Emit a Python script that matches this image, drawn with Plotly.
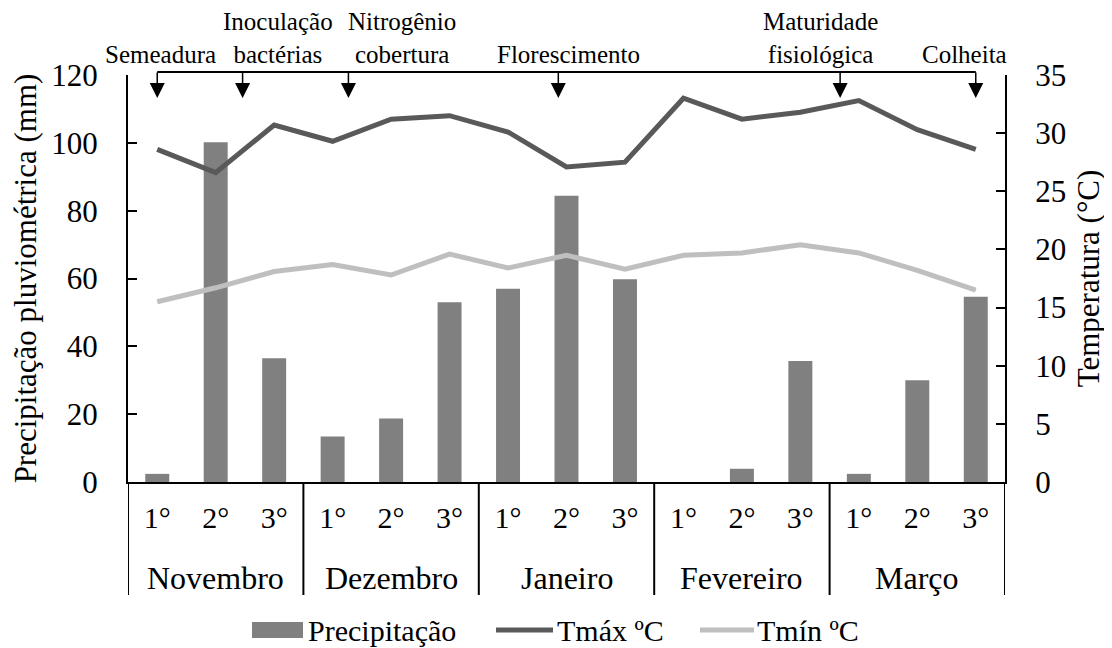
import plotly.graph_objects as go

months = ["Novembro", "Dezembro", "Janeiro", "Fevereiro", "Março"]
decendios = ["1°", "2°", "3°"]
precip = [2.4, 100.2, 36.5, 13.4, 18.7, 53.0, 57.0, 84.4, 59.8, 0.0, 3.9, 35.7, 2.4, 30.0, 54.6]
tmax = [28.6, 26.6, 30.7, 29.3, 31.2, 31.5, 30.1, 27.1, 27.5, 33.0, 31.2, 31.8, 32.8, 30.3, 28.6]
tmin = [15.5, 16.7, 18.1, 18.7, 17.8, 19.6, 18.4, 19.5, 18.3, 19.5, 19.7, 20.4, 19.7, 18.2, 16.5]

events = ["Semeadura", "Inoculação<br>bactérias", "Nitrogênio<br>cobertura",
          "Florescimento", "Maturidade<br>fisiológica", "Colheita"]
event_arrow_pos = [0.0, 1.46, 3.27, 6.86, 11.68, 14.0]
event_label_pos = [0.05, 2.06, 4.19, 7.04, 11.35, 13.81]

series_names = ["Precipitação", "Tmáx ºC", "Tmín ºC"]
colors = ["#808080", "#595959", "#bfbfbf"]

n = len(months) * len(decendios)
xi = list(range(n))
tick_text = [d for _ in months for d in decendios]

FONT = "Liberation Serif"

# page has an 8px body margin; plot area in window pixels: x 128..1005, y 75..482
OFF = 8
W, H = 1112 - OFF, 648 - OFF
PX0, PX1, PY0, PY1 = 128, 1005, 75, 482
ml, mr, mt, mb = PX0 - OFF, W + OFF - PX1, PY0 - OFF, H + OFF - PY1
pw, ph = PX1 - PX0, PY1 - PY0


def xpx(X):
    return (X - PX0) / pw


def ypx(Y):
    return 1 - (Y - PY0) / ph


def xidx(i):
    return (i + 0.5) / n


fig = go.Figure()
fig.add_trace(go.Bar(x=xi, y=precip, name=series_names[0],
                     marker=dict(color=colors[0], line=dict(width=0)), yaxis="y"))
fig.add_trace(go.Scatter(x=xi, y=tmax, name=series_names[1], mode="lines",
                         line=dict(color=colors[1], width=5), yaxis="y2"))
fig.add_trace(go.Scatter(x=xi, y=tmin, name=series_names[2], mode="lines",
                         line=dict(color=colors[2], width=5), yaxis="y2"))

annotations = []
shapes = []

# event bracket + arrows
shapes.append(dict(type="line", xref="paper", yref="paper",
                   x0=xidx(event_arrow_pos[0]), x1=xidx(event_arrow_pos[-1]),
                   y0=ypx(72), y1=ypx(72), line=dict(color="black", width=2)))
for pos in event_arrow_pos:
    annotations.append(dict(xref="paper", yref="paper", x=xidx(pos), y=ypx(98),
                            text="", showarrow=True, ax=0, ay=-27, arrowhead=2,
                            arrowsize=2.0, arrowwidth=1.5, arrowcolor="black"))
for lab, pos in zip(events, event_label_pos):
    annotations.append(dict(xref="paper", yref="paper", x=xidx(pos), y=ypx(70),
                            xanchor="center", yanchor="bottom", text=lab, showarrow=False,
                            font=dict(family=FONT, size=25, color="black")))

# month group labels and dividers
for k, m in enumerate(months):
    annotations.append(dict(xref="x", yref="paper", x=k * len(decendios) + (len(decendios) - 1) / 2,
                            y=ypx(578), xanchor="center", yanchor="middle", text=m,
                            showarrow=False, font=dict(family=FONT, size=32, color="black")))
for k in range(len(months) + 1):
    xv = k * len(decendios) - 0.5
    shapes.append(dict(type="line", xref="x", yref="paper", x0=xv, x1=xv,
                       y0=0, y1=ypx(595), line=dict(color="black", width=2)))

# manual legend
LEG_Y = 630
shapes.append(dict(type="rect", xref="paper", yref="paper", x0=xpx(252), x1=xpx(303),
                   y0=ypx(638), y1=ypx(622), fillcolor=colors[0], line=dict(width=0)))
shapes.append(dict(type="line", xref="paper", yref="paper", x0=xpx(496), x1=xpx(553),
                   y0=ypx(LEG_Y), y1=ypx(LEG_Y), line=dict(color=colors[1], width=5)))
shapes.append(dict(type="line", xref="paper", yref="paper", x0=xpx(700), x1=xpx(754),
                   y0=ypx(LEG_Y), y1=ypx(LEG_Y), line=dict(color=colors[2], width=5)))
for name, X in zip(series_names, [306, 555, 755]):
    annotations.append(dict(xref="paper", yref="paper", x=xpx(X), y=ypx(LEG_Y),
                            xanchor="left", yanchor="middle", text=name, showarrow=False,
                            font=dict(family=FONT, size=30, color="black")))

fig.update_layout(
    width=W, height=H,
    margin=dict(l=ml, r=mr, t=mt, b=mb, autoexpand=False),
    paper_bgcolor="white", plot_bgcolor="white",
    font=dict(family=FONT, size=30, color="black"),
    bargap=0.59,
    showlegend=False,
    xaxis=dict(range=[-0.5, n - 0.5], tickvals=xi, ticktext=tick_text, showline=True,
               linecolor="black", linewidth=2, ticks="", showgrid=False, zeroline=False,
               ticklabelstandoff=8, tickfont=dict(family=FONT, size=30, color="black")),
    yaxis=dict(range=[0, 120], dtick=20, showline=True, linecolor="black", linewidth=2,
               ticks="inside", ticklen=9, tickwidth=2, tickcolor="black", showgrid=False,
               zeroline=False, ticklabelstandoff=22, tickfont=dict(family=FONT, size=31),
               title=dict(text="Precipitação pluviométrica (mm)", standoff=12,
                          font=dict(family=FONT, size=31))),
    yaxis2=dict(range=[0, 35], dtick=5, overlaying="y", side="right", showline=True,
                linecolor="black", linewidth=2, ticks="inside", ticklen=9, tickwidth=2,
                tickcolor="black", showgrid=False, zeroline=False, ticklabelstandoff=22,
                tickfont=dict(family=FONT, size=31),
                title=dict(text="Temperatura (°C)", standoff=12,
                           font=dict(family=FONT, size=31))),
    annotations=annotations,
    shapes=shapes,
)

fig.write_html("out.html")
